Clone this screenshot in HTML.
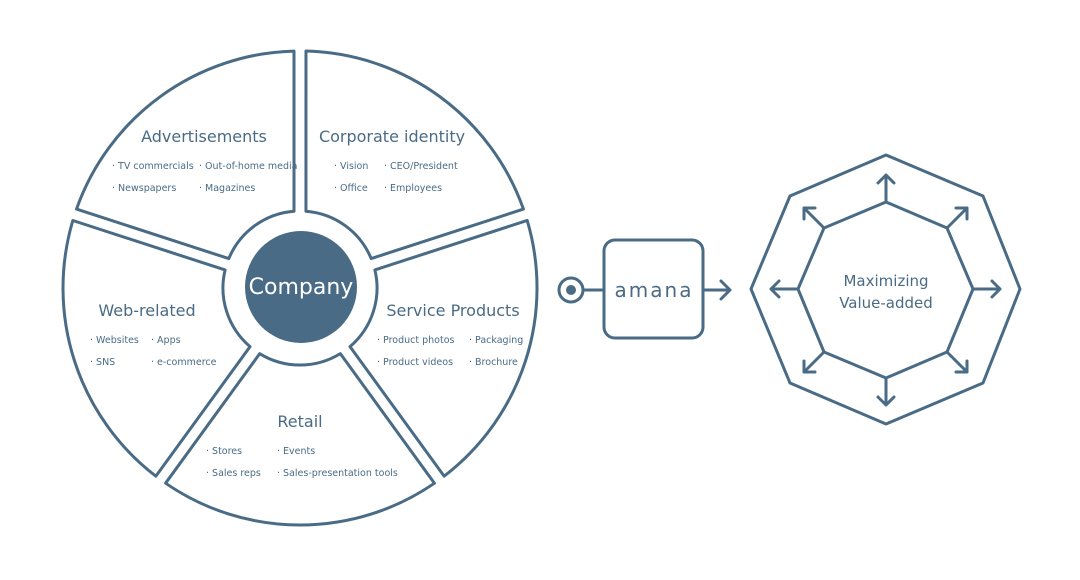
<!DOCTYPE html>
<html><head><meta charset="utf-8"><style>
html,body{margin:0;background:#fff;width:1080px;height:580px;overflow:hidden;}
svg{display:block;font-family:"DejaVu Sans","Liberation Sans",sans-serif;}
</style></head><body>
<svg width="1080" height="580" viewBox="0 0 1080 580" xmlns="http://www.w3.org/2000/svg">
<g fill="none" stroke="#4a6b85" stroke-width="3" stroke-linejoin="round">
<path d="M228.8 258.6 L76.5 209.1 A237 237 0 0 1 294 51.1 L294 211.2 A77 77 0 0 0 228.8 258.6 Z"/>
<path d="M228.8 258.6 L76.5 209.1 A237 237 0 0 1 294 51.1 L294 211.2 A77 77 0 0 0 228.8 258.6 Z" transform="rotate(72 300 288)"/>
<path d="M228.8 258.6 L76.5 209.1 A237 237 0 0 1 294 51.1 L294 211.2 A77 77 0 0 0 228.8 258.6 Z" transform="rotate(144 300 288)"/>
<path d="M228.8 258.6 L76.5 209.1 A237 237 0 0 1 294 51.1 L294 211.2 A77 77 0 0 0 228.8 258.6 Z" transform="rotate(216 300 288)"/>
<path d="M228.8 258.6 L76.5 209.1 A237 237 0 0 1 294 51.1 L294 211.2 A77 77 0 0 0 228.8 258.6 Z" transform="rotate(288 300 288)"/>
</g>
<circle cx="301" cy="287" r="56" fill="#4a6b85"/>
<text x="301" y="294" fill="#fff" font-size="22" text-anchor="middle">Company</text>
<g fill="#4a6b85">
<g font-size="16" text-anchor="middle">
<text x="204" y="142">Advertisements</text>
<text x="392" y="142">Corporate identity</text>
<text x="147" y="316">Web-related</text>
<text x="453" y="316">Service Products</text>
<text x="300" y="427">Retail</text>
</g>
<g font-size="9.5">
<text x="112" y="169">· TV commercials</text><text x="199" y="169">· Out-of-home media</text>
<text x="112" y="191">· Newspapers</text><text x="199" y="191">· Magazines</text>
<text x="334" y="169">· Vision</text><text x="384" y="169">· CEO/President</text>
<text x="334" y="191">· Office</text><text x="384" y="191">· Employees</text>
<text x="90" y="343">· Websites</text><text x="151" y="343">· Apps</text>
<text x="90" y="365">· SNS</text><text x="151" y="365">· e-commerce</text>
<text x="377" y="343">· Product photos</text><text x="469" y="343">· Packaging</text>
<text x="377" y="365">· Product videos</text><text x="469" y="365">· Brochure</text>
<text x="206" y="454">· Stores</text><text x="277" y="454">· Events</text>
<text x="206" y="476">· Sales reps</text><text x="277" y="476">· Sales-presentation tools</text>
</g>
<text x="886" y="286" font-size="15" text-anchor="middle">Maximizing</text>
<text x="886" y="308" font-size="15" text-anchor="middle">Value-added</text>
<text x="654" y="297" font-size="20" text-anchor="middle" letter-spacing="2">amana</text>
</g>
<g fill="none" stroke="#4a6b85" stroke-width="3" stroke-linejoin="round" stroke-linecap="round">
<circle cx="571" cy="290" r="12"/>
<line x1="583" y1="290" x2="604" y2="290"/>
<rect x="604" y="240" width="99" height="98" rx="11"/>
<path d="M703 290 H730 M721 281 L730 290 L721 299"/>
<polygon points="886,155 983,196 1020,289 983,383 886,424 790,383 751,289 790,196"/>
<polygon points="886,202 947,228 973,289 947,352 886,378 824,352 798,289 824,228"/>
<path d="M886 202 V175 M878 183 L886 175 L894 183"/>
<path d="M886 378 V405 M878 397 L886 405 L894 397"/>
<path d="M973 289 H1000 M992 281 L1000 289 L992 297"/>
<path d="M798 289 H771 M779 281 L771 289 L779 297"/>
<path d="M947 228 L967 208 M956 208 L967 208 L967 219"/>
<path d="M824 228 L804 208 M815 208 L804 208 L804 219"/>
<path d="M947 352 L967 372 M956 372 L967 372 L967 361"/>
<path d="M824 352 L804 372 M815 372 L804 372 L804 361"/>
</g>
<circle cx="571" cy="290" r="5" fill="#4a6b85"/>
</svg>
</body></html>
